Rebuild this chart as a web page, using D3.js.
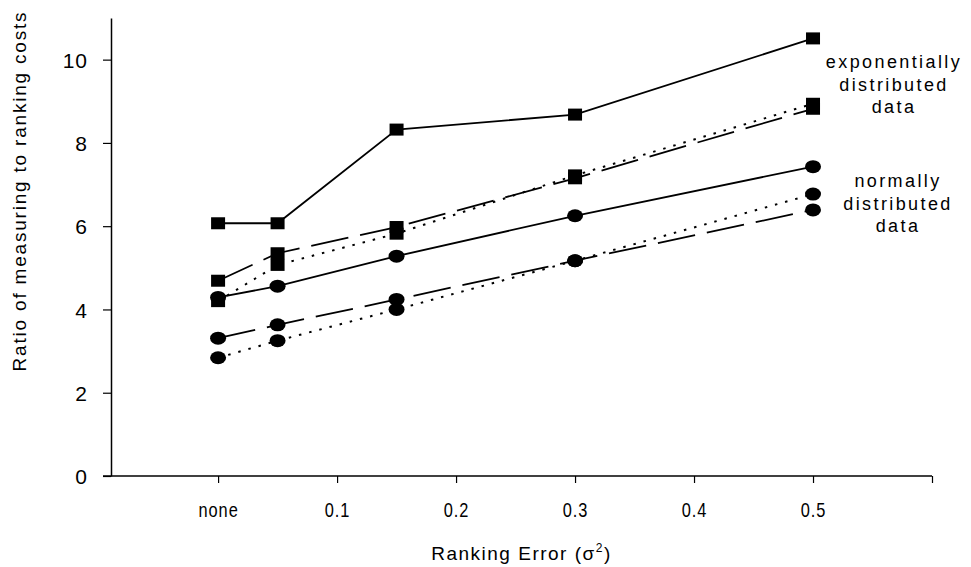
<!DOCTYPE html>
<html>
<head>
<meta charset="utf-8">
<style>
  body { margin: 0; background: #fff; }
  svg text { font-family: "Liberation Sans", Arial, sans-serif; fill: #000; }
</style>
</head>
<body>
<div id="graph_div"></div>
<script src="https://cdn.jsdelivr.net/npm/d3@7"></script>
<script>
// values
var xVals = [0, 0.05, 0.15, 0.3, 0.5];
var expSolid = [6.07, 6.07, 8.32, 8.68, 10.51];
var expDash  = [4.69, 5.35, 5.98, 7.15, 8.82];
var expDot   = [4.20, 5.07, 5.82, 7.22, 8.94];
var normSolid = [4.29, 4.56, 5.28, 6.25, 7.43];
var normDash  = [3.31, 3.63, 4.24, 5.17, 6.39];
var normDot   = [2.84, 3.25, 4.00, 5.17, 6.77];
var xTickVals = [0, 0.1, 0.2, 0.3, 0.4, 0.5, 0.6];
var xTickText = ["none", "0.1", "0.2", "0.3", "0.4", "0.5", ""];
var yTickVals = [0, 2, 4, 6, 8, 10];
var expLabel = ["exponentially", "distributed", "data"];
var normLabel = ["normally", "distributed", "data"];

var width = 971, height = 567;
var svg = d3.select("#graph_div").append("svg")
    .attr("width", width)
    .attr("height", height);

var x = d3.scaleLinear().domain([-0.09, 0.6]).range([111, 932]);
var y = d3.scaleLinear().domain([0, 11]).range([476, 18]);

// y axis
var yAxis = svg.append("g")
    .attr("transform", "translate(" + x(-0.09) + ",0)")
    .call(d3.axisLeft(y).tickValues(yTickVals).tickSize(8).tickSizeOuter(0).tickPadding(15));
yAxis.select(".domain").attr("stroke-width", 1.5);
yAxis.selectAll(".tick line").attr("stroke-width", 1.2);
yAxis.selectAll(".tick text").style("font-size", "21px").style("letter-spacing", "1px").attr("dy", "0.36em");

// x axis
var xAxis = svg.append("g")
    .attr("transform", "translate(0," + y(0) + ")")
    .call(d3.axisBottom(x).tickValues(xTickVals).tickSize(7).tickSizeOuter(0).tickPadding(20)
      .tickFormat(function(d, i) { return xTickText[i]; }));
xAxis.select(".domain").remove();
xAxis.append("line")
    .attr("x1", x(-0.09) - 8).attr("x2", x(0.6))
    .attr("stroke", "#000").attr("stroke-width", 1.5);
xAxis.selectAll(".tick line").attr("stroke-width", 1.2);
xAxis.selectAll(".tick text")
    .style("font-size", "20px").style("letter-spacing", "1.2px")
    .attr("transform", "scale(0.82,1)");

// axis titles
var xt = svg.append("text")
    .attr("text-anchor", "middle")
    .attr("x", (x(-0.09) + x(0.6)) / 2)
    .attr("y", 560)
    .style("font-size", "19px")
    .style("letter-spacing", "1.5px");
xt.append("tspan").text("Ranking Error (\u03C3");
xt.append("tspan").attr("dy", -8).style("font-size", "12px").text("2");
xt.append("tspan").attr("dy", 8).text(")");

svg.append("text")
    .attr("text-anchor", "middle")
    .attr("transform", "translate(26,191) rotate(-90)")
    .style("font-size", "19px")
    .style("letter-spacing", "1.8px")
    .text("Ratio of measuring to ranking costs");

// series
var series = [
  {vals: expSolid, dash: null, shape: "square"},
  {vals: expDash, dash: "38,12", shape: "square"},
  {vals: expDot, dash: "2.5,8", shape: "square"},
  {vals: normSolid, dash: null, shape: "circle"},
  {vals: normDash, dash: "38,12", shape: "circle"},
  {vals: normDot, dash: "2.5,8", shape: "circle"}
];

var line = d3.line()
    .x(function(d) { return x(d.x); })
    .y(function(d) { return y(d.y); });

series.forEach(function(s) {
  var pts = xVals.map(function(v, i) { return {x: v, y: s.vals[i]}; });
  svg.append("path")
      .attr("d", line(pts))
      .attr("fill", "none")
      .attr("stroke", "#000")
      .attr("stroke-width", s.dash === "2.5,8" ? 2 : 1.8)
      .attr("stroke-dasharray", s.dash);
  if (s.shape === "square") {
    svg.selectAll(null).data(pts).enter().append("rect")
        .attr("x", function(d) { return x(d.x) - 7; })
        .attr("y", function(d) { return y(d.y) - 6; })
        .attr("width", 14).attr("height", 12)
        .attr("fill", "#000");
  } else {
    svg.selectAll(null).data(pts).enter().append("ellipse")
        .attr("cx", function(d) { return x(d.x); })
        .attr("cy", function(d) { return y(d.y); })
        .attr("rx", 8).attr("ry", 6.5)
        .attr("fill", "#000");
  }
});

// text labels next to the groups
function block(lines, cx, top) {
  var t = svg.append("text")
      .attr("text-anchor", "middle")
      .style("font-size", "18px")
      .style("letter-spacing", "2.4px");
  lines.forEach(function(l, i) {
    t.append("tspan").attr("x", cx).attr("y", top + i * 22.5).text(l);
  });
}
block(expLabel, 894, 68);
block(normLabel, 898, 187);
</script>
</body>
</html>
